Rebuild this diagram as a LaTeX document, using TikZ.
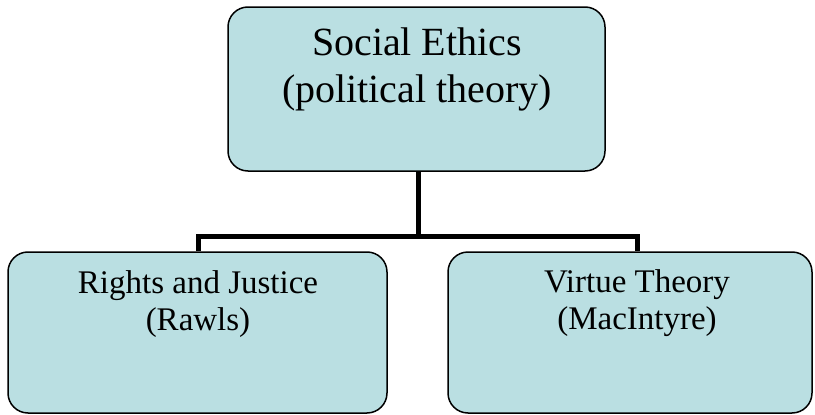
\documentclass[tikz,border=0pt]{standalone}
\usepackage{fontspec}
\setmainfont{Liberation Serif}
\definecolor{boxfill}{RGB}{186,223,226}
\begin{document}
\begin{tikzpicture}[x=1pt,y=-1pt,
  ebox/.style={draw=black,line width=1.5pt,fill=boxfill,rounded corners=20pt,inner sep=0pt},
  conn/.style={draw=black,line width=5pt},
  toptext/.style={align=center,anchor=base,inner sep=0pt,font=\fontsize{40}{47}\selectfont},
  subtext/.style={align=center,anchor=base,inner sep=0pt,font=\fontsize{33}{37}\selectfont}]
\useasboundingbox (0,0) rectangle (815,415);
\node[ebox,minimum width=377pt,minimum height=164pt] (topbox) at (416.5,89) {};
\node[ebox,minimum width=379pt,minimum height=161pt] (leftbox) at (197.5,332.5) {};
\node[ebox,minimum width=364pt,minimum height=161pt] (rightbox) at (630,332.5) {};
\coordinate (mid) at (418,236.5);
\coordinate (lj) at (198.5,236.5);
\coordinate (rj) at (637,236.5);
\draw[conn] (topbox.south -| mid) -- (mid);
\draw[conn,line join=miter] (leftbox.north -| lj) -- (lj) -- (rj) -- (rightbox.north -| rj);
\node[toptext] (t1) at (417,102) {Social Ethics\\(political theory)};
\node[subtext] (t2) at (198,330) {Rights and Justice\\(Rawls)};
\node[subtext] (t3) at (637,329) {Virtue Theory\\(MacIntyre)};
\end{tikzpicture}
\end{document}
